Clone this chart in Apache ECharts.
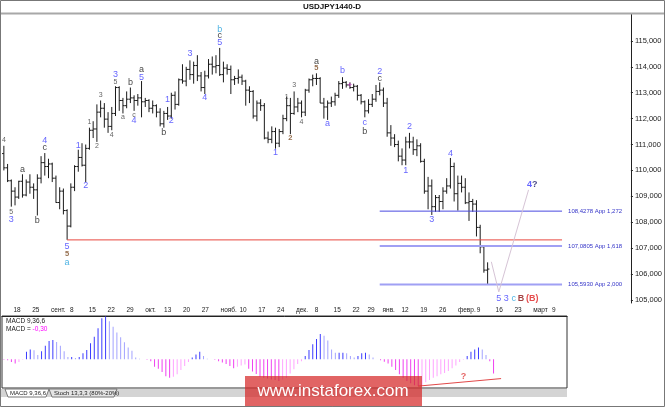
<!DOCTYPE html>
<html><head><meta charset="utf-8">
<script src="https://cdn.jsdelivr.net/npm/echarts@6/dist/echarts.min.js"></script>
<style>html,body{margin:0;padding:0;background:#fff}#c{width:665px;height:407px}</style>
</head><body><div id="c"></div>
<script>
// ---------- DATA ----------
const titleText = 'USDJPY1440-D';
const startDate = '2017-08-16';
const holidays = ['2017-12-25', '2018-01-01'];
const priceTicks = [105, 106, 107, 108, 109, 110, 111, 112, 113, 114, 115];
const monthNames = ['янв.', 'февр.', 'март', 'апр.', 'май', 'июнь', 'июль', 'авг.', 'сент.', 'окт.', 'нояб.', 'дек.'];

const opens = [110.65,110.10,109.60,109.20,108.97,109.58,109.05,109.55,109.35,109.25,109.70,110.30,110.15,110.25,109.70,108.76,109.20,108.45,107.85,109.35,110.15,110.50,110.20,110.85,111.55,111.60,112.25,112.40,111.98,111.70,112.20,113.20,112.70,112.50,112.75,112.80,112.70,112.80,112.65,112.70,112.40,112.50,112.25,111.80,112.20,112.10,112.90,112.55,113.50,113.45,113.90,113.70,114.05,113.65,113.20,113.65,114.10,114.00,114.05,113.70,113.95,113.90,113.50,113.55,113.60,113.45,113.10,113.05,112.10,112.60,112.50,111.25,111.20,111.50,111.05,111.50,112.00,112.50,112.20,112.45,112.60,112.25,113.10,113.50,113.55,113.55,112.60,112.45,112.60,112.65,112.90,113.35,113.40,113.30,113.20,113.25,112.90,112.65,112.30,112.55,112.75,113.05,113.10,112.60,111.45,111.25,111.00,110.55,110.40,111.10,111.10,110.80,110.95,110.35,109.20,109.40,108.60,108.95,108.80,109.20,109.40,110.15,109.10,109.50,109.35,108.75,108.80,108.70,107.80,107.05,106.15];
const highs = [110.95,110.25,109.65,109.35,109.60,109.85,109.65,109.85,109.50,109.85,110.55,110.67,110.45,110.30,109.80,109.35,109.30,108.50,109.50,110.20,110.80,111.05,111.00,111.65,111.90,112.55,112.70,112.60,112.25,112.45,113.25,113.25,112.80,113.05,113.20,112.90,112.95,113.45,112.80,112.75,112.70,112.55,112.40,112.30,112.45,113.00,113.05,113.55,114.10,114.00,114.25,114.20,114.45,113.80,113.85,114.30,114.40,114.45,114.73,114.20,114.10,114.05,113.65,113.90,113.70,113.50,113.25,113.10,112.70,112.75,112.60,111.50,111.70,111.65,111.60,112.15,112.85,112.80,113.05,112.80,112.70,113.15,113.55,113.70,113.75,113.60,112.80,112.70,112.85,113.00,113.45,113.60,113.45,113.40,113.35,113.30,112.95,112.70,112.75,112.95,113.30,113.40,113.20,112.80,111.75,111.40,111.15,110.85,111.30,111.45,111.30,111.20,111.05,110.45,109.75,109.65,109.05,109.05,109.35,109.70,110.48,110.30,109.80,109.80,109.70,109.15,108.90,108.85,107.90,107.10,106.45];
const lows = [110.00,109.55,108.60,108.65,108.90,108.95,109.00,109.10,108.90,108.26,109.50,109.80,109.70,109.55,108.75,108.50,108.30,107.32,107.80,109.20,109.95,110.15,109.55,110.80,111.25,111.10,112.05,111.65,111.45,111.55,112.10,112.30,112.20,112.40,112.60,112.30,112.50,112.05,112.45,112.25,112.20,112.05,111.70,111.65,111.95,112.00,112.35,112.50,113.35,113.25,113.50,113.35,113.45,113.05,112.95,113.55,113.70,113.75,113.65,113.40,113.70,112.95,113.30,113.35,113.30,112.50,112.60,112.00,111.90,112.30,111.20,111.05,111.05,110.84,110.90,111.40,111.90,111.40,112.15,112.25,112.05,112.10,113.00,113.25,113.30,112.60,112.00,111.95,112.45,112.50,112.80,113.15,113.20,113.15,113.05,112.70,112.55,112.05,112.20,112.45,112.65,112.90,112.45,111.30,110.95,110.90,110.35,110.20,110.20,110.85,110.60,110.55,110.30,109.10,108.50,108.28,108.40,108.40,108.50,109.10,109.30,108.80,108.45,109.15,108.70,108.05,108.40,107.45,106.80,106.05,105.58];
const closes = [110.10,109.60,109.20,108.97,109.58,109.05,109.55,109.35,109.25,109.70,110.30,110.15,110.25,109.70,108.76,109.20,108.45,107.85,109.35,110.15,110.50,110.20,110.85,111.55,111.60,112.25,112.40,111.98,111.70,112.20,113.20,112.70,112.50,112.75,112.80,112.70,112.80,112.65,112.70,112.40,112.50,112.25,111.80,112.20,112.10,112.90,112.55,113.50,113.45,113.90,113.70,114.05,113.65,113.20,113.65,114.10,114.00,114.05,113.70,113.95,113.90,113.50,113.55,113.60,113.45,113.10,113.05,112.10,112.60,112.50,111.25,111.20,111.50,111.05,111.50,112.00,112.50,112.20,112.45,112.60,112.25,113.10,113.50,113.55,113.55,112.60,112.45,112.60,112.65,112.90,113.35,113.40,113.30,113.20,113.25,112.90,112.65,112.30,112.55,112.75,113.05,113.10,112.60,111.45,111.25,111.00,110.55,110.40,111.10,111.10,110.80,110.95,110.35,109.20,109.40,108.60,108.95,108.80,109.20,109.40,110.15,109.10,109.50,109.35,108.75,108.80,108.70,107.80,107.05,106.15,106.19];

const macdHist = [-0.01,-0.02,-0.06,-0.09,-0.06,-0.01,0.16,0.21,0.19,0.09,0.17,0.29,0.39,0.41,0.37,0.29,0.17,0.05,0.05,0.03,0.05,0.13,0.20,0.34,0.48,0.66,0.87,0.91,0.81,0.69,0.57,0.47,0.36,0.25,0.18,0.04,0.01,0.00,-0.01,-0.04,-0.16,-0.20,-0.27,-0.36,-0.39,-0.37,-0.32,-0.23,-0.14,-0.06,0.04,0.10,0.16,0.07,0.01,0.00,-0.01,-0.04,-0.07,-0.10,-0.14,-0.19,-0.16,-0.13,-0.11,-0.20,-0.26,-0.31,-0.37,-0.39,-0.41,-0.43,-0.44,-0.46,-0.43,-0.40,-0.30,-0.21,-0.10,-0.04,0.07,0.20,0.32,0.43,0.54,0.50,0.40,0.21,0.14,0.14,0.14,0.13,0.07,0.04,0.07,0.13,0.14,0.10,0.04,0.00,-0.02,-0.05,-0.09,-0.16,-0.23,-0.32,-0.39,-0.46,-0.51,-0.55,-0.57,-0.56,-0.49,-0.44,-0.39,-0.36,-0.32,-0.29,-0.25,-0.19,-0.13,-0.06,-0.01,0.07,0.16,0.21,0.25,0.21,0.09,-0.04,-0.30];
const macdName = 'MACD 9,36,6';
const stochName = 'Stoch 13,3,3 (80%-20%)';

const currentPrice = 106.194;
const supportLevel = 107.317;
const supportStart = 17;
const fiboLevels = [108.4278, 107.0805, 105.5930];
const fiboNames = ['App 1,272', 'App 1,618', 'App 2,000'];
const fiboStart = 101;
const levelEnd = 150;
const projection = [[131, 106.47], [133, 105.31], [141, 109.25]];
const divergence = [[110, -0.57], [132, -0.41]];
const divergenceMark = [122, -0.36, '?'];

// [bar index, price, text, kind]
const waveLabels = [
 [0,111.18,'4','s'],
 [2,108.40,'5','s'],[2,108.09,'3','b'],
 [5,110.02,'a','k'],
 [9,108.05,'b','k'],
 [11,111.14,'4','b'],[11,110.87,'c','k'],
 [17,107.08,'5','b'],[17,106.78,'5','br'],[17,106.43,'a','c'],
 [20,110.95,'1','b'],
 [22,109.40,'2','b'],
 [23,111.87,'1','s'],
 [25,110.95,'2','s'],
 [26,112.92,'3','s'],
 [29,111.37,'4','s'],
 [30,113.71,'3','b'],[30,113.42,'5','s'],
 [32,112.07,'a','s'],
 [34,113.41,'b','k'],
 [35,112.12,'c','s'],[35,111.91,'4','b'],
 [37,113.91,'a','k'],[37,113.58,'5','b'],
 [43,111.47,'b','k'],
 [44,112.72,'1','b'],[45,111.92,'2','b'],
 [50,114.53,'3','b'],
 [54,112.81,'4','b'],
 [58,115.46,'b','c'],[58,115.19,'c','k'],[58,114.93,'5','b'],
 [73,110.69,'1','b'],
 [76,112.84,'1','s'],
 [77,111.25,'2','br'],
 [78,113.30,'3','s'],
 [80,111.85,'4','s'],
 [84,114.20,'a','k'],[84,113.95,'5','br'],
 [87,111.82,'a','b'],
 [91,113.85,'b','b'],
 [93,113.26,'+','m'],
 [97,111.85,'c','b'],[97,111.50,'b','k'],
 [101,113.81,'2','b'],[101,113.53,'c','k'],
 [108,109.99,'1','b'],
 [109,111.69,'2','b'],
 [115,108.12,'3','b'],
 [120,110.66,'4','b'],
 [142,109.47,'{x|4}{y|?}','q'],
 [133,105.07,'5','b'],[135,105.07,'3','b'],[137,105.07,'c','c'],[139,105.07,'B','dr'],[142,105.07,'(B)','r']
];

// ---------- BUILD ----------
function buildDates(start, count) {
  const out = []; const d = new Date(start + 'T00:00:00Z');
  while (out.length < count) {
    const dow = d.getUTCDay(); const s = d.toISOString().slice(0, 10);
    if (dow !== 0 && dow !== 6 && holidays.indexOf(s) < 0) out.push(s);
    d.setUTCDate(d.getUTCDate() + 1);
  }
  return out;
}
const mainDates = buildDates(startDate, 169);
const axisDates = mainDates.slice(0, 150);
const isFri = (idx, val) => new Date(val + 'T00:00:00Z').getUTCDay() === 5;
const fmtDate = (val) => { const d = new Date(val + 'T00:00:00Z'); const day = d.getUTCDate(); return day <= 7 ? monthNames[d.getUTCMonth()] : String(day); };
const comma = (v, n) => v.toFixed(n).replace('.', ',');

const FONT = '"Liberation Sans", Arial, sans-serif';
const kindStyle = {
  b: {color: '#3c3cff', fontSize: 9},
  k: {color: '#111111', fontSize: 9},
  s: {color: '#3a3a3a', fontSize: 7},
  br: {color: '#7a4a20', fontSize: 7.5, fontWeight: 'bold'},
  c: {color: '#1e9fdc', fontSize: 9},
  m: {color: '#e030e0', fontSize: 9},
  dr: {color: '#8b1010', fontSize: 9, fontWeight: 'bold'},
  r: {color: '#e02020', fontSize: 9, fontWeight: 'bold'},
  q: {fontSize: 9, fontWeight: 'bold'}
};
const waveData = waveLabels.map(w => ({
  value: [w[0], w[1]],
  label: Object.assign({formatter: w[2]}, kindStyle[w[3]])
}));

const macdData = macdHist.map((v, i) => {
  const prev = i > 0 ? macdHist[i - 1] : 0; let col;
  if (v >= 0) col = v >= prev ? '#3b3bff' : '#a3a3ff';
  else col = v <= prev ? '#f040f0' : '#ffa3ff';
  return {value: v, itemStyle: {color: col}};
});

const fiboSeries = fiboLevels.map((v, k) => ({
  type: 'line', xAxisIndex: 0, yAxisIndex: 0, symbol: 'none', silent: true,
  data: [[fiboStart, v], [levelEnd, v]],
  lineStyle: k === 0 ? {color: '#4a4ae0', width: 1} : {color: '#a0a0f4', width: 2},
  endLabel: {show: true, formatter: comma(v, 4) + ' ' + fiboNames[k], fontSize: 6, color: '#3535c8', distance: 6, fontFamily: FONT}
}));

const chart = echarts.init(document.getElementById('c'));
chart.setOption({
  animation: false,
  backgroundColor: '#ffffff',
  textStyle: {fontFamily: FONT},
  grid: [
    {left: 2, top: 14, width: 636, height: 289},
    {left: 2, top: 316, width: 565, height: 72, show: true, borderColor: '#333', borderWidth: 1, backgroundColor: '#fff'},
    {left: 2, top: 303, width: 565, height: 13}
  ],
  xAxis: [
    {type: 'category', gridIndex: 0, data: mainDates, show: false},
    {type: 'category', gridIndex: 1, data: axisDates, show: false},
    {type: 'category', gridIndex: 2, data: axisDates, position: 'top',
     axisLine: {lineStyle: {color: '#222', width: 1}},
     axisTick: {inside: true, length: 3, alignWithLabel: true, interval: isFri, lineStyle: {color: '#222'}},
     axisLabel: {inside: true, interval: isFri, formatter: fmtDate, align: 'left', padding: [0, 0, 0, 2], margin: 4, fontSize: 6.5, color: '#222', verticalAlign: 'top'}}
  ],
  yAxis: [
    {type: 'value', gridIndex: 0, position: 'right', min: 104.88, max: 116.04, splitLine: {show: false},
     axisLine: {show: true, lineStyle: {color: '#222'}},
     axisTick: {show: true, length: 2, customValues: priceTicks, lineStyle: {color: '#222'}},
     axisLabel: {customValues: priceTicks, formatter: v => comma(v, 3), fontSize: 7.5, margin: 4, color: '#222'}},
    {type: 'value', gridIndex: 1, min: -0.61, max: 0.92, show: false},
    {type: 'value', gridIndex: 2, show: false}
  ],
  series: [
    {type: 'line', xAxisIndex: 0, yAxisIndex: 0, symbol: 'none', silent: true,
     data: [[supportStart, supportLevel], [levelEnd, supportLevel]],
     lineStyle: {color: '#e8473f', width: 1},
     markLine: {symbol: 'none', silent: true, data: [{yAxis: currentPrice}], lineStyle: {opacity: 0},
       label: {position: 'end', distance: 0, formatter: comma(currentPrice, 3), backgroundColor: '#ffff00', color: '#000', fontSize: 7.5, padding: [1, 4, 0, 2]}}},
    ...fiboSeries,
    {type: 'line', xAxisIndex: 0, yAxisIndex: 0, symbol: 'none', silent: true, data: projection,
     lineStyle: {color: '#d6c4d6', width: 1}},
    {type: 'custom', xAxisIndex: 0, yAxisIndex: 0, silent: true,
     data: opens.map((o, i) => [i, o, highs[i], lows[i], closes[i]]),
     encode: {x: 0, y: [1, 2, 3, 4]},
     renderItem: (p, api) => {
       const i = api.value(0);
       const pH = api.coord([i, api.value(2)]), pL = api.coord([i, api.value(3)]);
       const pO = api.coord([i, api.value(1)]), pC = api.coord([i, api.value(4)]);
       const x = pH[0]; const st = {stroke: '#1a1a1a', lineWidth: 1};
       return {type: 'group', children: [
         {type: 'line', shape: {x1: x, y1: pH[1], x2: x, y2: pL[1]}, style: st},
         {type: 'line', shape: {x1: x - 1.8, y1: pO[1], x2: x, y2: pO[1]}, style: st},
         {type: 'line', shape: {x1: x, y1: pC[1], x2: x + 1.8, y2: pC[1]}, style: st}
       ]};
     }},
    {type: 'scatter', xAxisIndex: 0, yAxisIndex: 0, silent: true, symbolSize: 1, itemStyle: {color: 'rgba(0,0,0,0)'},
     label: {show: true, position: 'inside', fontFamily: FONT,
       rich: {x: {color: '#3c3cff', fontSize: 9, fontWeight: 'bold'}, y: {color: '#1a1a6a', fontSize: 9, fontWeight: 'bold'}}},
     data: waveData, z: 5},
    {type: 'bar', xAxisIndex: 1, yAxisIndex: 1, silent: true, barWidth: 1, data: macdData},
    {type: 'line', xAxisIndex: 1, yAxisIndex: 1, symbol: 'none', silent: true, data: divergence,
     lineStyle: {color: '#e04848', width: 1}},
    {type: 'scatter', xAxisIndex: 1, yAxisIndex: 1, silent: true, symbolSize: 1, itemStyle: {color: 'rgba(0,0,0,0)'},
     data: [[divergenceMark[0], divergenceMark[1]]],
     label: {show: true, position: 'inside', formatter: divergenceMark[2], color: '#e04040', fontSize: 9, fontWeight: 'bold'}}
  ],
  graphic: [
    {type: 'line', z: 50, shape: {x1: 0, y1: 13.5, x2: 665, y2: 13.5}, style: {stroke: '#a8a8a8', lineWidth: 2}},
    {type: 'text', z: 50, x: 332, y: 3, style: {text: titleText, font: 'bold 8px ' + FONT, fill: '#111', align: 'center'}},
    {type: 'text', z: 50, x: 6, y: 317, style: {
      text: '{k|' + macdName + '}\n{k|MACD = }{m|' + comma(macdHist[macdHist.length - 1], 2) + '}',
      rich: {k: {fontSize: 6.5, fill: '#222', lineHeight: 8, fontFamily: FONT}, m: {fontSize: 6.5, fill: '#ff00ff', lineHeight: 8, fontFamily: FONT}}}},
    {type: 'rect', z: 50, shape: {x: 1, y: 389, width: 566, height: 8}, style: {fill: '#d4d4d4'}},
    {type: 'polygon', z: 51, shape: {points: [[5, 389], [8, 397], [46, 397], [49, 389]]}, style: {fill: '#fff', stroke: '#777'}},
    {type: 'text', z: 52, x: 10, y: 390, style: {text: macdName, font: '6px ' + FONT, fill: '#222'}},
    {type: 'polygon', z: 51, shape: {points: [[49, 389], [52, 397], [114, 397], [117, 389]]}, style: {fill: '#e4e4e4', stroke: '#777'}},
    {type: 'text', z: 52, x: 54, y: 390, style: {text: stochName, font: '6px ' + FONT, fill: '#222'}},
    {type: 'rect', z: 60, shape: {x: 245, y: 376, width: 177, height: 31}, style: {fill: 'rgba(214,40,40,0.72)'}},
    {type: 'text', z: 61, x: 333, y: 383, style: {text: 'www.instaforex.com', font: '17px ' + FONT, fill: '#ffffff', align: 'center'}},
    {type: 'rect', z: 70, shape: {x: 0.5, y: 0.5, width: 664, height: 406}, style: {fill: null, stroke: '#777', lineWidth: 1}}
  ]
});
</script>
</body></html>
